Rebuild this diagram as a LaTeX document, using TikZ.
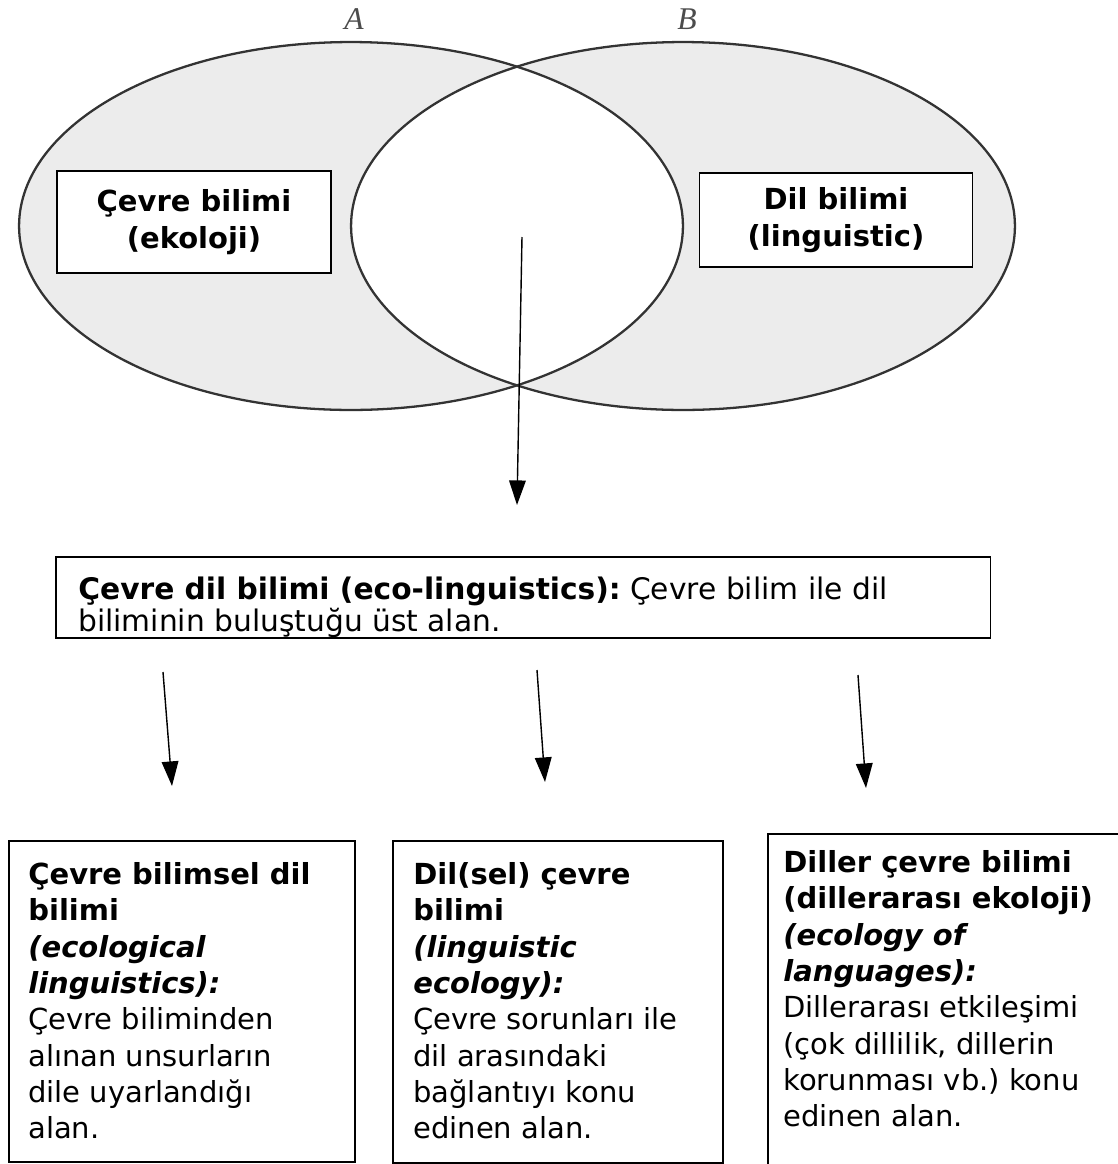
\documentclass[tikz,border=0pt]{standalone}
\usepackage{fontspec}
\setmainfont{DejaVu Sans}
\newfontfamily\setletterfont{Liberation Serif}
\usepackage{tikz}
\usetikzlibrary{arrows.meta}
\usetikzlibrary{positioning}

\tikzset{
  setline/.style={line width=1.3pt, black!80},
  fieldbox/.style={draw, line width=1.1pt, fill=white, align=center,
    font=\fontsize{16.5}{21.5}\selectfont\bfseries},
  framebox/.style={draw, line width=0.9pt, anchor=north west, inner sep=0pt},
  boxtext/.style={anchor=north west, inner sep=0pt, align=left,
    font=\fontsize{16.5}{20.7}\selectfont\frenchspacing},
  pointer/.style={line width=0.8pt, -{Triangle[length=14pt,width=9.5pt]}}
}

\begin{document}
\begin{tikzpicture}[x=0.02cm, y=-0.02cm]
            \useasboundingbox (0,0) rectangle (1118,1164);
            \clip (0,0) rectangle (1118,1164);

            \coordinate (A) at (351,226);
            \coordinate (B) at (683,226);

            \fill [gray!15] (A) ellipse [x radius=6.64cm, y radius=3.68cm];
            \fill [gray!15] (B) ellipse [x radius=6.64cm, y radius=3.68cm];
            \begin{scope}
                \clip (A) ellipse [x radius=6.64cm, y radius=3.68cm];
                \fill [white] (B) ellipse [x radius=6.64cm, y radius=3.68cm];
            \end{scope}
            \draw [setline] (A) ellipse [x radius=6.64cm, y radius=3.68cm];
            \draw [setline] (B) ellipse [x radius=6.64cm, y radius=3.68cm];

            \node [black!70, font=\setletterfont\itshape\fontsize{18}{18}\selectfont] (labelA) at (354,19) {A};
            \node [black!70, font=\setletterfont\itshape\fontsize{18}{18}\selectfont] (labelB) at (687,19) {B};

            \node [fieldbox, minimum width=5.48cm, minimum height=2.04cm] (ecology) at (194,222) {Çevre bilimi\\(ekoloji)};
            \node [fieldbox, minimum width=5.46cm, minimum height=1.88cm] (linguistics) at (836,220) {Dil bilimi\\(linguistic)};

            \node [framebox, minimum width=18.7cm, minimum height=1.62cm] (ecoling) at (55,556) {};
            \node [boxtext, font=\fontsize{16.9}{18.2}\selectfont\frenchspacing] (ecolingtext) at ([shift={(23,21)}]ecoling.north west)
                {\textbf{Çevre dil bilimi (eco-linguistics):} Çevre bilim ile dil\\biliminin buluştuğu üst alan.};

            \node [framebox, minimum width=6.92cm, minimum height=6.42cm] (ecological) at (8,840) {};
            \node [framebox, minimum width=6.6cm, minimum height=6.44cm] (linguistic) at (392,840) {};
            \node [framebox, minimum width=8cm, minimum height=8cm] (languages) at (767,833) {};

            \node [boxtext] (ecologicaltext) at ([shift={(20,22)}]ecological.north west)
                {\textbf{Çevre bilimsel dil}\\\textbf{bilimi}\\\textbf{\textit{(ecological}}\\\textbf{\textit{linguistics):}}\\Çevre biliminden\\alınan unsurların\\dile uyarlandığı\\alan.};
            \node [boxtext] (linguistictext) at ([shift={(21,22)}]linguistic.north west)
                {\textbf{Dil(sel) çevre}\\\textbf{bilimi}\\\textbf{\textit{(linguistic}}\\\textbf{\textit{ecology):}}\\Çevre sorunları ile\\dil arasındaki\\bağlantıyı konu\\edinen alan.};
            \node [boxtext] (languagestext) at ([shift={(16,17)}]languages.north west)
                {\textbf{Diller çevre bilimi}\\\textbf{(dillerarası ekoloji)}\\\textbf{\textit{(ecology of}}\\\textbf{\textit{languages):}}\\Dillerarası etkileşimi\\(çok dillilik, dillerin\\korunması vb.) konu\\edinen alan.};

            \coordinate (overlap) at (522,237);
            \coordinate (overlapend) at (517,505);
            \coordinate (left1) at (163,672);
            \coordinate (left2) at (172,786);
            \coordinate (mid1) at (537,670);
            \coordinate (mid2) at (545,782);
            \coordinate (right1) at (858,675);
            \coordinate (right2) at (866,788);

            \draw [pointer] (overlap) -- (overlapend);
            \draw [pointer] (left1) -- (left2);
            \draw [pointer] (mid1) -- (mid2);
            \draw [pointer] (right1) -- (right2);
        \end{tikzpicture}
\end{document}
